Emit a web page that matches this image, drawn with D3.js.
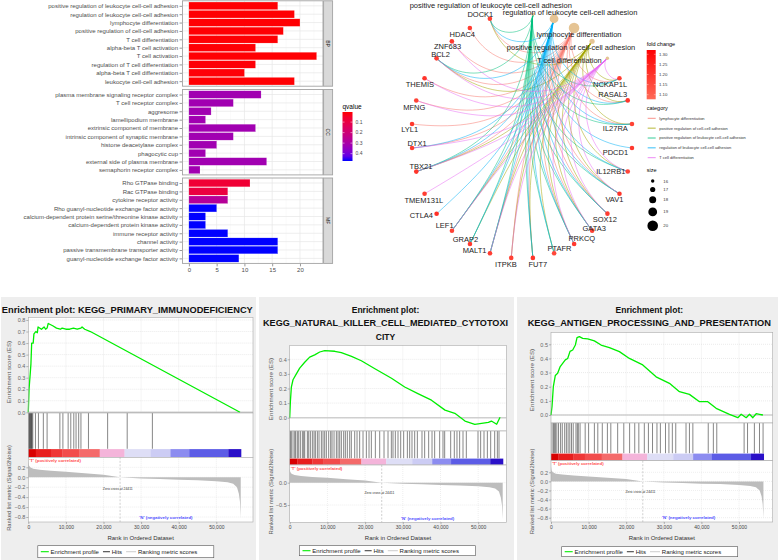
<!doctype html>
<html>
<head>
<meta charset="utf-8">
<script src="https://cdn.jsdelivr.net/npm/d3@7/dist/d3.min.js"></script>
<style>
  body { margin: 0; background: #fff; }
  text { font-family: "Liberation Sans", Arial, Helvetica, sans-serif; }
</style>
</head>
<body>
<script>
// ---------- GO enrichment (bar chart) ----------
var bpTerms = ["positive regulation of leukocyte cell-cell adhesion", "regulation of leukocyte cell-cell adhesion",
  "lymphocyte differentiation", "positive regulation of cell-cell adhesion", "T cell differentiation",
  "alpha-beta T cell activation", "T cell activation", "regulation of T cell differentiation",
  "alpha-beta T cell differentiation", "leukocyte cell-cell adhesion"];
var bpCount = [16, 19, 20, 17, 16, 12, 23, 12, 10, 19];
var bpQ = [0.006, 0.006, 0.006, 0.006, 0.007, 0.008, 0.006, 0.009, 0.01, 0.006];

var ccTerms = ["plasma membrane signaling receptor complex", "T cell receptor complex", "aggresome",
  "lamellipodium membrane", "extrinsic component of membrane", "intrinsic component of synaptic membrane",
  "histone deacetylase complex", "phagocytic cup", "external side of plasma membrane", "semaphorin receptor complex"];
var ccCount = [13, 8, 4, 3, 12, 8, 5, 3, 14, 2];
var ccQ = [0.32, 0.32, 0.32, 0.32, 0.32, 0.32, 0.32, 0.32, 0.32, 0.32];

var mfTerms = ["Rho GTPase binding", "Rac GTPase binding", "cytokine receptor activity",
  "Rho guanyl-nucleotide exchange factor activity", "calcium-dependent protein serine/threonine kinase activity",
  "calcium-dependent protein kinase activity", "immune receptor activity", "channel activity",
  "passive transmembrane transporter activity", "guanyl-nucleotide exchange factor activity"];
var mfCount = [11, 7, 7, 5, 3, 3, 7, 16, 16, 9];
var mfQ = [0.07, 0.09, 0.27, 0.47, 0.47, 0.47, 0.47, 0.47, 0.47, 0.47];

var qTicks = [0.1, 0.2, 0.3, 0.4];

// ---------- gene-concept network ----------
var categoryNames = ["lymphocyte differentiation", "positive regulation of cell-cell adhesion",
  "positive regulation of leukocyte cell-cell adhesion", "regulation of leukocyte cell-cell adhesion",
  "T cell differentiation"];
var categoryColors = ["#F8766D", "#A3A500", "#00BF7D", "#00B0F6", "#E76BF3"];
var categorySize = [20, 17, 16, 19, 16];
var categoryGenes = [
  ["DOCK1", "HDAC4", "ZNF683", "BCL2", "THEMIS", "MFNG", "LYL1", "DTX1", "TBX21", "LEF1", "ITPKB", "PRKCQ",
   "GATA3", "SOX12", "VAV1", "IL27RA", "RASAL3", "NCKAP1L", "MALT1", "FUT7"],
  ["BCL2", "TBX21", "GRAP2", "MALT1", "FUT7", "PTAFR", "PRKCQ", "GATA3", "VAV1", "IL12RB1", "IL27RA",
   "NCKAP1L", "RASAL3", "DOCK1", "LEF1", "SOX12", "ITPKB"],
  ["BCL2", "TBX21", "GRAP2", "MALT1", "FUT7", "PTAFR", "PRKCQ", "GATA3", "VAV1", "IL12RB1", "IL27RA",
   "NCKAP1L", "RASAL3", "DOCK1", "LEF1", "SOX12"],
  ["BCL2", "TBX21", "GRAP2", "MALT1", "FUT7", "PTAFR", "PRKCQ", "GATA3", "VAV1", "IL12RB1", "IL27RA",
   "NCKAP1L", "RASAL3", "DOCK1", "LEF1", "SOX12", "CTLA4", "PDCD1", "DTX1"],
  ["ZNF683", "BCL2", "THEMIS", "MFNG", "DTX1", "TBX21", "TMEM131L", "LEF1", "MALT1", "ITPKB", "PRKCQ",
   "GATA3", "SOX12", "VAV1", "NCKAP1L", "IL12RB1"]
];
var geneNames = ["NCKAP1L", "RASAL3", "IL27RA", "PDCD1", "IL12RB1", "VAV1", "SOX12", "GATA3", "PRKCQ", "PTAFR",
  "FUT7", "ITPKB", "MALT1", "GRAP2", "LEF1", "CTLA4", "TMEM131L", "TBX21", "DTX1", "LYL1", "MFNG", "THEMIS",
  "BCL2", "ZNF683", "HDAC4", "DOCK1"];
var geneFold = [1.18, 1.2, 1.17, 1.19, 1.16, 1.2, 1.18, 1.17, 1.19, 1.16, 1.2, 1.17, 1.18, 1.19, 1.17, 1.21,
  1.18, 1.2, 1.18, 1.19, 1.17, 1.2, 1.18, 1.19, 1.18, 1.17];
// order of nodes around the circle (one slot left empty as in the figure)
var netSlots = ["positive regulation of leukocyte cell-cell adhesion", "regulation of leukocyte cell-cell adhesion",
  "lymphocyte differentiation", "positive regulation of cell-cell adhesion", "T cell differentiation",
  "NCKAP1L", "RASAL3", "IL27RA", "PDCD1", "IL12RB1", "VAV1", "SOX12", "GATA3", "PRKCQ", "PTAFR", "FUT7",
  "ITPKB", "MALT1", "GRAP2", "LEF1", "CTLA4", "TMEM131L", "TBX21", "DTX1", "LYL1", "MFNG", "THEMIS",
  "BCL2", "ZNF683", "HDAC4", "DOCK1", ""];
var foldTicks = [1.10, 1.15, 1.20, 1.25, 1.30];
var sizeTicks = [16, 17, 18, 19, 20];

// label placement (text nudges from node, px)
var labelNudge = {
  "DOCK1": [-9.5, -4.5], "HDAC4": [-7.6, 6], "ZNF683": [-4.3, 5], "BCL2": [4, -4], "THEMIS": [-4.7, 6],
  "MFNG": [-2, 6.7], "LYL1": [-2.4, 5.3], "DTX1": [5, -4.6], "TBX21": [4.7, -5.7], "TMEM131L": [-0.7, 6.7],
  "CTLA4": [-15.3, 2], "LEF1": [-7.3, -5], "GRAP2": [-4.6, -5], "MALT1": [-15.3, -3.3], "ITPKB": [-5.3, 6.4],
  "FUT7": [5, 6.4], "PTAFR": [5.3, -5.3], "PRKCQ": [7.7, -6], "GATA3": [2, -2.7], "SOX12": [-2.6, 5.3],
  "VAV1": [-5, 6], "IL12RB1": [-17, 0], "PDCD1": [-16.6, 4.7], "IL27RA": [-16.6, 4.3], "RASAL3": [-15, -5.7],
  "NCKAP1L": [-9.3, 5.7],
  "positive regulation of leukocyte cell-cell adhesion": [-42, -9],
  "regulation of leukocyte cell-cell adhesion": [16, -6],
  "lymphocyte differentiation": [5, 6],
  "positive regulation of cell-cell adhesion": [-21, 6.3],
  "T cell differentiation": [-38, 1.7]
};

// ---------- GSEA ----------
var xTicksRank = [0, 10000, 20000, 30000, 40000, 50000];
var metricRank = [0, 150, 500, 1300, 3000, 6000, 10000, 15000, 20000, 24411, 30000, 35000, 40000, 45000,
  50000, 53000, 54500, 55500, 56000, 56300, 56500];
var metricVal = [0.32, 0.24, 0.2, 0.17, 0.15, 0.13, 0.11, 0.08, 0.05, 0.0, -0.025, -0.035, -0.05, -0.06,
  -0.08, -0.1, -0.13, -0.2, -0.33, -0.5, -0.82];
var cbStart = [0, 2000, 6000, 9000, 13500, 19000, 25600, 32500, 37800, 42800, 53200];
var cbEnd = [2000, 6000, 9000, 13500, 19000, 25600, 32500, 37800, 42800, 53200, 56600];
var cbColor = ["#d80000", "#e81e1e", "#ef3636", "#f24c4c", "#f46a6a", "#f4b4da", "#dedef6", "#ccccf4",
  "#8c8cf0", "#5c5ce6", "#2a10c8"];

var p1Rank = [0, 200, 500, 700, 900, 1300, 1500, 2000, 2400, 2600, 3500, 4200, 4600, 5000, 5300, 6500, 7500,
  8500, 9000, 10000, 11000, 12000, 13000, 14000, 14300, 15000, 16500, 56300];
var p1ES = [0, 0.2, 0.33, 0.42, 0.6, 0.6, 0.68, 0.7, 0.69, 0.74, 0.72, 0.74, 0.72, 0.73, 0.77, 0.75, 0.73,
  0.72, 0.73, 0.72, 0.72, 0.73, 0.72, 0.73, 0.74, 0.72, 0.7, 0];
var p1Hits = [100, 250, 400, 550, 700, 850, 1000, 1200, 1900, 2700, 4000, 5000, 8400, 9200, 10600, 11300,
  12100, 12700, 13400, 14000, 16000, 21100, 26300, 33000];

var p2Rank = [0, 180, 440, 880, 1770, 2650, 3980, 5300, 6640, 7960, 9290, 11950, 13700, 16400, 19000, 22600,
  27000, 30500, 34000, 37600, 41200, 43800, 46500, 49100, 50900, 52700, 53500, 54900, 55800];
var p2ES = [0, 0.11, 0.21, 0.26, 0.3, 0.34, 0.38, 0.415, 0.43, 0.45, 0.46, 0.455, 0.445, 0.42, 0.39, 0.335,
  0.27, 0.21, 0.165, 0.12, 0.052, 0.03, -0.023, -0.045, -0.039, -0.032, -0.023, -0.045, 0.003];
var p2Hits = [180, 440, 880, 1330, 1590, 2030, 2390, 2830, 3360, 3710, 3980, 4690, 5040, 5480, 6010, 6450,
  6810, 7340, 7780, 8400, 8840, 9280, 9720, 10340, 10870, 11230, 11760, 12380, 12820, 13260, 13700, 14320,
  14760, 15290, 15910, 16350, 17240, 17860, 18560, 19450, 20330, 21040, 21660, 22720, 23870, 25020, 26080,
  26960, 27400, 28020, 28730, 29440, 30230, 31210, 31820, 32440, 33150, 33860, 35090, 35800, 36860, 37750,
  38450, 39780, 40660, 41110, 42700, 43660, 44370, 45080, 45970, 46850, 49950, 50650, 51540, 52430, 53310,
  54370, 55080, 55520];

var p3Rank = [0, 270, 620, 1150, 1770, 2400, 3100, 3800, 4440, 5060, 5770, 6480, 6920, 7540, 8430, 9760,
  11540, 13310, 15530, 18190, 20850, 24400, 27950, 31500, 34160, 36820, 39490, 41700, 43920, 47470, 49690,
  50580, 51910, 52800, 53680, 54570, 55460, 56350];
var p3ES = [0, 0.06, 0.2, 0.28, 0.295, 0.34, 0.365, 0.39, 0.4, 0.45, 0.46, 0.495, 0.547, 0.554, 0.542,
  0.538, 0.524, 0.495, 0.476, 0.448, 0.4, 0.354, 0.27, 0.224, 0.165, 0.146, 0.094, 0.094, 0.047, 0.005,
  -0.019, 0.005, -0.019, 0.005, -0.019, 0.009, 0.005, 0.0];
var p3Hits = [270, 640, 900, 1180, 1550, 2000, 2550, 3000, 3640, 4090, 4550, 5000, 5450, 5910, 6640, 7000,
  7270, 7730, 9090, 10000, 11540, 12450, 13640, 15000, 15910, 17730, 19360, 20910, 22270, 23360, 24820,
  25910, 27000, 28180, 29090, 30450, 31360, 32270, 33180, 35910, 36820, 37730, 41820, 43180, 44090, 51360,
  52270, 54090, 55450, 56400];

var svg = d3.select("body").append("svg").attr("width", 778).attr("height", 560);
var defs = svg.append("defs");

// =================== bar chart ===================
var barX = d3.scaleLinear().domain([-1.15, 24.15]).range([182.5, 323]);
var qColor = d3.scaleLinear().domain([0.004, 0.47]).range(["red", "blue"]).interpolate(d3.interpolateLab);
var facets = [
  {strip: "BP", terms: bpTerms, count: bpCount, q: bpQ, top: 0.8},
  {strip: "CC", terms: ccTerms, count: ccCount, q: ccQ, top: 89.5},
  {strip: "MF", terms: mfTerms, count: mfCount, q: mfQ, top: 178}
];
var panelH = 85.4;
var px0 = barX.range()[0], px1 = barX.range()[1];

facets.forEach(function(f, fi) {
  var y = d3.scalePoint().domain(f.terms).range([f.top, f.top + panelH]).padding(0.6);
  var g = svg.append("g");
  g.append("rect").attr("x", px0).attr("y", f.top).attr("width", px1 - px0).attr("height", panelH).attr("fill", "#fff");
  g.selectAll(".minor").data([2.5, 7.5, 12.5, 17.5, 22.5]).enter().append("line")
    .attr("x1", function(d) { return barX(d); }).attr("x2", function(d) { return barX(d); })
    .attr("y1", f.top).attr("y2", f.top + panelH).attr("stroke", "#f2f2f2").attr("stroke-width", 0.4);
  g.selectAll(".major").data([0, 5, 10, 15, 20]).enter().append("line")
    .attr("x1", function(d) { return barX(d); }).attr("x2", function(d) { return barX(d); })
    .attr("y1", f.top).attr("y2", f.top + panelH).attr("stroke", "#e6e6e6").attr("stroke-width", 0.7);
  g.selectAll(".hgrid").data(f.terms).enter().append("line")
    .attr("x1", px0).attr("x2", px1).attr("y1", function(d) { return y(d); }).attr("y2", function(d) { return y(d); })
    .attr("stroke", "#e6e6e6").attr("stroke-width", 0.7);
  var bh = y.step() * 0.9;
  g.selectAll(".bar").data(f.terms).enter().append("rect")
    .attr("x", barX(0)).attr("y", function(d) { return y(d) - bh / 2; })
    .attr("width", function(d, i) { return barX(f.count[i]) - barX(0); })
    .attr("height", bh)
    .attr("fill", function(d, i) { return qColor(f.q[i]); })
    .attr("stroke", "#ffffff").attr("stroke-opacity", 0.35).attr("stroke-width", 0.4);
  g.append("rect").attr("x", px0).attr("y", f.top).attr("width", px1 - px0).attr("height", panelH)
    .attr("fill", "none").attr("stroke", "#a3a3a3").attr("stroke-width", 0.9);
  // facet strip
  g.append("rect").attr("x", px1 + 0.6).attr("y", f.top).attr("width", 9).attr("height", panelH)
    .attr("fill", "#d9d9d9").attr("stroke", "#a3a3a3").attr("stroke-width", 0.9);
  g.append("text").attr("transform", "translate(" + (px1 + 5.1) + "," + (f.top + panelH / 2) + ") rotate(90)")
    .attr("text-anchor", "middle").attr("dy", "0.35em").attr("font-size", 5).attr("fill", "#1a1a1a").text(f.strip);
  // term labels
  var ax = g.append("g").attr("transform", "translate(" + (px0 - 0.5) + ",0)")
    .call(d3.axisLeft(y).tickSize(2.5).tickPadding(1.5));
  ax.select(".domain").remove();
  ax.selectAll("line").attr("stroke", "#333").attr("stroke-width", 0.5);
  ax.selectAll("text").attr("font-size", 6).attr("fill", "#4d4d4d").style("font-family", "'Liberation Sans', Arial, sans-serif");
  if (fi === facets.length - 1) {
    var bx = g.append("g").attr("transform", "translate(0," + (f.top + panelH + 0.5) + ")")
      .call(d3.axisBottom(barX).tickValues([0, 5, 10, 15, 20]).tickSize(2.5).tickPadding(1.2));
    bx.select(".domain").remove();
    bx.selectAll("line").attr("stroke", "#333").attr("stroke-width", 0.5);
    bx.selectAll("text").attr("font-size", 6).attr("fill", "#4d4d4d").style("font-family", "'Liberation Sans', Arial, sans-serif");
  }
});

// qvalue legend
var qLegY = d3.scaleLinear().domain([0.004, 0.47]).range([112, 161]);
var qGrad = defs.append("linearGradient").attr("id", "qgrad").attr("x1", 0).attr("x2", 0).attr("y1", 0).attr("y2", 1);
d3.range(0, 1.0001, 0.1).forEach(function(t) {
  qGrad.append("stop").attr("offset", t).attr("stop-color", qColor(0.004 + t * (0.47 - 0.004)));
});
svg.append("text").attr("x", 342.5).attr("y", 109).attr("font-size", 6.5).attr("fill", "#000").text("qvalue");
svg.append("rect").attr("x", 342.5).attr("y", 112).attr("width", 10).attr("height", 49).attr("fill", "url(#qgrad)");
qTicks.forEach(function(t) {
  svg.append("line").attr("x1", 342.5).attr("x2", 344.5).attr("y1", qLegY(t)).attr("y2", qLegY(t)).attr("stroke", "#fff").attr("stroke-width", 0.5);
  svg.append("line").attr("x1", 350.5).attr("x2", 352.5).attr("y1", qLegY(t)).attr("y2", qLegY(t)).attr("stroke", "#fff").attr("stroke-width", 0.5);
  svg.append("text").attr("x", 355.5).attr("y", qLegY(t)).attr("dy", "0.35em").attr("font-size", 5).attr("fill", "#4d4d4d").text(t.toFixed(1));
});

// =================== network ===================
var netX = d3.scaleLinear().domain([-1, 1]).range([411.5, 632.5]);
var netY = d3.scaleLinear().domain([-1, 1]).range([13.5, 258.5]);
var slotAngle = d3.scaleLinear().domain([0, netSlots.length]).range([-84.4, 275.6]);
var sizeR = d3.scaleLinear().domain([16, 20]).range([1.7, 5.3]);
var foldColor = d3.scaleLinear().domain([1.077, 1.321]).range(["#ff6a56", "#ff0000"]);
var nodePos = {};
netSlots.forEach(function(name, k) {
  if (!name) return;
  var a = slotAngle(k) * Math.PI / 180;
  nodePos[name] = {u: Math.cos(a), v: Math.sin(a)};
});
function edgePath(a, b) {
  var d = Math.hypot(a.u - b.u, a.v - b.v), k = 0.9 * d / 2;
  return "M" + netX(a.u) + "," + netY(a.v) +
    "C" + netX(a.u * (1 - k)) + "," + netY(a.v * (1 - k)) + " " +
    netX(b.u * (1 - k)) + "," + netY(b.v * (1 - k)) + " " + netX(b.u) + "," + netY(b.v);
}
var net = svg.append("g");
categoryNames.forEach(function(c, ci) {
  categoryGenes[ci].forEach(function(gene) {
    net.append("path").attr("d", edgePath(nodePos[c], nodePos[gene])).attr("fill", "none")
      .attr("stroke", categoryColors[ci]).attr("stroke-width", 0.6).attr("stroke-opacity", 0.85);
  });
});
geneNames.forEach(function(gene, i) {
  net.append("circle").attr("cx", netX(nodePos[gene].u)).attr("cy", netY(nodePos[gene].v)).attr("r", 2.3)
    .attr("fill", foldColor(geneFold[i]));
});
categoryNames.forEach(function(c, ci) {
  net.append("circle").attr("cx", netX(nodePos[c].u)).attr("cy", netY(nodePos[c].v)).attr("r", sizeR(categorySize[ci]))
    .attr("fill", "#E5C494");
});
netSlots.forEach(function(name) {
  if (!name) return;
  var p = nodePos[name], nd = labelNudge[name];
  net.append("text").attr("x", netX(p.u) + nd[0]).attr("y", netY(p.v) + nd[1]).attr("dy", "0.35em")
    .attr("text-anchor", "middle").attr("font-size", 7.5).attr("fill", "#222").text(name);
});

// network legends
var lg = svg.append("g");
var fcY = d3.scaleLinear().domain([1.10, 1.30]).range([94.7, 54.3]);
var fGrad = defs.append("linearGradient").attr("id", "fgrad").attr("x1", 0).attr("x2", 0).attr("y1", 1).attr("y2", 0);
fGrad.append("stop").attr("offset", 0).attr("stop-color", foldColor(1.077));
fGrad.append("stop").attr("offset", 1).attr("stop-color", foldColor(1.321));
lg.append("text").attr("x", 646.7).attr("y", 46).attr("font-size", 5.5).attr("fill", "#000").text("fold change");
lg.append("rect").attr("x", 646.7).attr("y", 50).attr("width", 9).attr("height", 49.3).attr("fill", "url(#fgrad)");
foldTicks.forEach(function(t) {
  lg.append("line").attr("x1", 646.7).attr("x2", 648.5).attr("y1", fcY(t)).attr("y2", fcY(t)).attr("stroke", "#fff").attr("stroke-width", 0.4);
  lg.append("line").attr("x1", 653.9).attr("x2", 655.7).attr("y1", fcY(t)).attr("y2", fcY(t)).attr("stroke", "#fff").attr("stroke-width", 0.4);
  lg.append("text").attr("x", 659).attr("y", fcY(t)).attr("dy", "0.35em").attr("font-size", 4.3).attr("fill", "#333").text(t.toFixed(2));
});
lg.append("text").attr("x", 646.7).attr("y", 109.5).attr("font-size", 5.5).attr("fill", "#000").text("category");
var catY = d3.scalePoint().domain(categoryNames).range([118.3, 157.7]);
categoryNames.forEach(function(c, ci) {
  lg.append("line").attr("x1", 647.7).attr("x2", 655.7).attr("y1", catY(c)).attr("y2", catY(c))
    .attr("stroke", categoryColors[ci]).attr("stroke-width", 0.8);
  lg.append("text").attr("x", 659.3).attr("y", catY(c)).attr("dy", "0.35em").attr("font-size", 4).attr("fill", "#333").text(c);
});
lg.append("text").attr("x", 646.7).attr("y", 172).attr("font-size", 5.5).attr("fill", "#000").text("size");
var sy = 181;
sizeTicks.forEach(function(s, i) {
  if (i > 0) sy += sizeR(sizeTicks[i - 1]) + sizeR(s) + 4.2;
  lg.append("circle").attr("cx", 652.7).attr("cy", sy).attr("r", sizeR(s)).attr("fill", "#000");
  lg.append("text").attr("x", 663.3).attr("y", sy).attr("dy", "0.35em").attr("font-size", 4.3).attr("fill", "#333").text(s);
});

// =================== GSEA panels ===================
var gseaPanels = [
  {bgX: 1, bgW: 255, titleX: 127.3, titleY: [313.3], title: ["Enrichment plot: KEGG_PRIMARY_IMMUNODEFICIENCY"], titleW: [251],
   x0: 28.3, px10k: 37.6, right: 253, esTop: 317.5, esBottom: 413, esDomain: [0, 0.8], esRange: [412.3, 320],
   esTicks: [0, 0.1, 0.2, 0.3, 0.4, 0.5, 0.6, 0.7, 0.8], hitBottom: 448.8, cbBottom: 457.3,
   rmDomain: [0.2, -0.8], rmRange: [467.3, 517], rmTicks: [0.2, 0, -0.2, -0.4, -0.6, -0.8], bottom: 522,
   yLabelX: 9, esLabelY: 372, rmLabelY: 488, legendCx: 125.8, legendY: 545.7, legendH: 12,
   rank: p1Rank, es: p1ES, hits: p1Hits},
  {bgX: 259, bgW: 255, titleX: 385.5, titleY: [313.3, 326, 339.7],
   title: ["Enrichment plot:", "KEGG_NATURAL_KILLER_CELL_MEDIATED_CYTOTOXI", "CITY"], titleW: [0, 245, 0],
   x0: 289.7, px10k: 37.7, right: 506.3, esTop: 345.5, esBottom: 431, esDomain: [0, 0.4], esRange: [417.7, 359.3],
   esTicks: [0, 0.1, 0.2, 0.3, 0.4], hitBottom: 458.3, cbBottom: 465,
   rmDomain: [0, -0.5], rmRange: [482.7, 505], rmTicks: [0, -0.5], bottom: 522.3,
   yLabelX: 270.7, esLabelY: 389, rmLabelY: 491.7, legendCx: 387.5, legendY: 545.7, legendH: 10,
   rank: p2Rank, es: p2ES, hits: p2Hits},
  {bgX: 517, bgW: 261, titleX: 649.3, titleY: [313.3, 326],
   title: ["Enrichment plot:", "KEGG_ANTIGEN_PROCESSING_AND_PRESENTATION"], titleW: [0, 243.3],
   x0: 551, px10k: 37.6, right: 772.7, esTop: 332.5, esBottom: 423, esDomain: [0, 0.5], esRange: [415, 344.3],
   esTicks: [0, 0.1, 0.2, 0.3, 0.4, 0.5], hitBottom: 453.3, cbBottom: 460.7,
   rmDomain: [0.2, -0.8], rmRange: [472.3, 517.7], rmTicks: [0.2, 0, -0.2, -0.4, -0.6, -0.8], bottom: 522,
   yLabelX: 531.5, esLabelY: 380, rmLabelY: 491.5, legendCx: 649.7, legendY: 546.7, legendH: 10,
   rank: p3Rank, es: p3ES, hits: p3Hits}
];

function styleAxis(ax, size, color) {
  ax.select(".domain").remove();
  ax.selectAll("line").attr("stroke", "#777").attr("stroke-width", 0.5);
  ax.selectAll("text").attr("font-size", size).attr("fill", color).style("font-family", "'Liberation Sans', Arial, sans-serif");
}

gseaPanels.forEach(function(p) {
  var g = svg.append("g");
  var L = p.x0, R = p.right;
  var x = d3.scaleLinear().domain([0, 10000]).range([p.x0, p.x0 + p.px10k]);
  var es = d3.scaleLinear().domain(p.esDomain).range(p.esRange);
  var rm = d3.scaleLinear().domain(p.rmDomain).range(p.rmRange);

  g.append("rect").attr("x", p.bgX).attr("y", 297).attr("width", p.bgW).attr("height", 263).attr("fill", "#eeeeee");
  p.title.forEach(function(t, i) {
    var tt = g.append("text").attr("x", p.titleX).attr("y", p.titleY[i]).attr("text-anchor", "middle")
      .attr("font-size", 8.5).attr("font-weight", "bold").attr("fill", "#111").text(t);
    if (p.titleW[i]) tt.attr("textLength", p.titleW[i]).attr("lengthAdjust", "spacingAndGlyphs");
  });

  // running enrichment score
  g.append("rect").attr("x", L).attr("y", p.esTop).attr("width", R - L).attr("height", p.esBottom - p.esTop).attr("fill", "#fff");
  xTicksRank.slice(1).forEach(function(t) {
    g.append("line").attr("x1", x(t)).attr("x2", x(t)).attr("y1", p.esTop).attr("y2", p.esBottom)
      .attr("stroke", "#d6d6d6").attr("stroke-width", 0.5).attr("stroke-dasharray", "1,1");
  });
  p.esTicks.forEach(function(t) {
    g.append("line").attr("x1", L).attr("x2", R).attr("y1", es(t)).attr("y2", es(t))
      .attr("stroke", "#d6d6d6").attr("stroke-width", 0.5).attr("stroke-dasharray", "1,1");
  });
  g.append("line").attr("x1", L).attr("x2", R).attr("y1", es(0)).attr("y2", es(0)).attr("stroke", "#cfcfcf").attr("stroke-width", 1.4);
  var esPts = p.rank.map(function(r, i) { return [r, p.es[i]]; });
  g.append("path").datum(esPts)
    .attr("d", d3.line().x(function(d) { return x(d[0]); }).y(function(d) { return es(d[1]); }))
    .attr("fill", "none").attr("stroke", "#00ee00").attr("stroke-width", 1.3).attr("stroke-linejoin", "round");
  g.append("rect").attr("x", L).attr("y", p.esTop).attr("width", R - L).attr("height", p.esBottom - p.esTop)
    .attr("fill", "none").attr("stroke", "#aaaaaa").attr("stroke-width", 0.6);

  // hits + colour bar
  g.append("rect").attr("x", L).attr("y", p.esBottom).attr("width", R - L).attr("height", p.cbBottom - p.esBottom).attr("fill", "#fff");
  g.selectAll(".hit").data(p.hits).enter().append("line")
    .attr("x1", function(d) { return x(d); }).attr("x2", function(d) { return x(d); })
    .attr("y1", p.esBottom).attr("y2", p.hitBottom).attr("stroke", "#000").attr("stroke-width", 0.6).attr("stroke-opacity", 0.8);
  g.selectAll(".cb").data(cbStart).enter().append("rect")
    .attr("x", function(d) { return x(d); }).attr("y", p.hitBottom + 0.3)
    .attr("width", function(d, i) { return x(cbEnd[i]) - x(d) + 0.2; })
    .attr("height", p.cbBottom - p.hitBottom - 0.6)
    .attr("fill", function(d, i) { return cbColor[i]; });
  g.append("rect").attr("x", L).attr("y", p.esBottom).attr("width", R - L).attr("height", p.cbBottom - p.esBottom)
    .attr("fill", "none").attr("stroke", "#aaaaaa").attr("stroke-width", 0.6);

  // ranked list metric
  g.append("rect").attr("x", L).attr("y", p.cbBottom).attr("width", R - L).attr("height", p.bottom - p.cbBottom).attr("fill", "#fff");
  p.rmTicks.forEach(function(t) {
    g.append("line").attr("x1", L).attr("x2", R).attr("y1", rm(t)).attr("y2", rm(t))
      .attr("stroke", "#dcdcdc").attr("stroke-width", 0.5).attr("stroke-dasharray", "1,1");
  });
  xTicksRank.slice(1).forEach(function(t) {
    g.append("line").attr("x1", x(t)).attr("x2", x(t)).attr("y1", p.cbBottom).attr("y2", p.bottom)
      .attr("stroke", "#dcdcdc").attr("stroke-width", 0.5).attr("stroke-dasharray", "1,1");
  });
  var mPts = metricRank.map(function(r, i) { return [r, metricVal[i]]; });
  g.append("path").datum(mPts)
    .attr("d", d3.area().x(function(d) { return x(d[0]); }).y0(rm(0)).y1(function(d) { return rm(d[1]); }))
    .attr("fill", "#bdbdbd");
  g.append("line").attr("x1", x(24411)).attr("x2", x(24411)).attr("y1", p.cbBottom).attr("y2", p.bottom)
    .attr("stroke", "#a0a0a0").attr("stroke-width", 0.5).attr("stroke-dasharray", "2,1.5");
  g.append("text").attr("x", L + 1).attr("y", p.cbBottom + 3).attr("dy", "0.35em").attr("font-size", 4.4)
    .attr("font-weight", "bold").attr("fill", "#ff5050").text("'T' (positively correlated)");
  g.append("text").attr("x", x(23800)).attr("y", rm(-0.23)).attr("dy", "0.35em").attr("text-anchor", "middle")
    .attr("font-size", 3.4).attr("fill", "#333").text("Zero cross at 24411");
  g.append("text").attr("x", x(29500)).attr("y", rm(-0.8)).attr("dy", "0.35em").attr("font-size", 4.4)
    .attr("font-weight", "bold").attr("fill", "#5050ff").text("'N' (negatively correlated)");
  g.append("rect").attr("x", L).attr("y", p.cbBottom).attr("width", R - L).attr("height", p.bottom - p.cbBottom)
    .attr("fill", "none").attr("stroke", "#aaaaaa").attr("stroke-width", 0.6);

  // axes
  var ay = g.append("g").attr("transform", "translate(" + L + ",0)")
    .call(d3.axisLeft(es).tickValues(p.esTicks).tickFormat(d3.format(".1f")).tickSize(2).tickPadding(1));
  styleAxis(ay, 5.5, "#666");
  var ar = g.append("g").attr("transform", "translate(" + L + ",0)")
    .call(d3.axisLeft(rm).tickValues(p.rmTicks).tickFormat(d3.format(".1f")).tickSize(2).tickPadding(1));
  styleAxis(ar, 5.5, "#666");
  var axb = g.append("g").attr("transform", "translate(0," + p.bottom + ")")
    .call(d3.axisBottom(x).tickValues(xTicksRank).tickFormat(d3.format(",")).tickSize(2).tickPadding(1.3));
  styleAxis(axb, 5, "#444");
  g.append("text").attr("x", (L + R) / 2).attr("y", 537.5).attr("dy", "0.35em").attr("text-anchor", "middle")
    .attr("font-size", 6).attr("fill", "#333").text("Rank in Ordered Dataset");
  g.append("text").attr("transform", "translate(" + p.yLabelX + "," + p.esLabelY + ") rotate(-90)")
    .attr("text-anchor", "middle").attr("dy", "0.35em").attr("font-size", 6.2).attr("fill", "#555").text("Enrichment score (ES)");
  g.append("text").attr("transform", "translate(" + p.yLabelX + "," + p.rmLabelY + ") rotate(-90)")
    .attr("text-anchor", "middle").attr("dy", "0.35em").attr("font-size", 5.8).attr("fill", "#555").text("Ranked list metric (Signal2Noise)");

  // legend box
  var bw = 176, bx0 = p.legendCx - bw / 2, cy = p.legendY + p.legendH / 2;
  g.append("rect").attr("x", bx0).attr("y", p.legendY).attr("width", bw).attr("height", p.legendH)
    .attr("fill", "#fff").attr("stroke", "#555").attr("stroke-width", 0.6);
  var items = [["#00ee00", "Enrichment profile", 8], ["#444", "Hits", 7], ["#d0d0d0", "Ranking metric scores", 10]];
  var cx = bx0 + 3;
  items.forEach(function(it) {
    g.append("line").attr("x1", cx).attr("x2", cx + it[2]).attr("y1", cy).attr("y2", cy)
      .attr("stroke", it[0]).attr("stroke-width", 1.1);
    cx += it[2] + 1.8;
    var t = g.append("text").attr("x", cx).attr("y", cy).attr("dy", "0.35em").attr("font-size", 6).attr("fill", "#222").text(it[1]);
    cx += t.node().getComputedTextLength() + 4;
  });
});
</script>
</body>
</html>
